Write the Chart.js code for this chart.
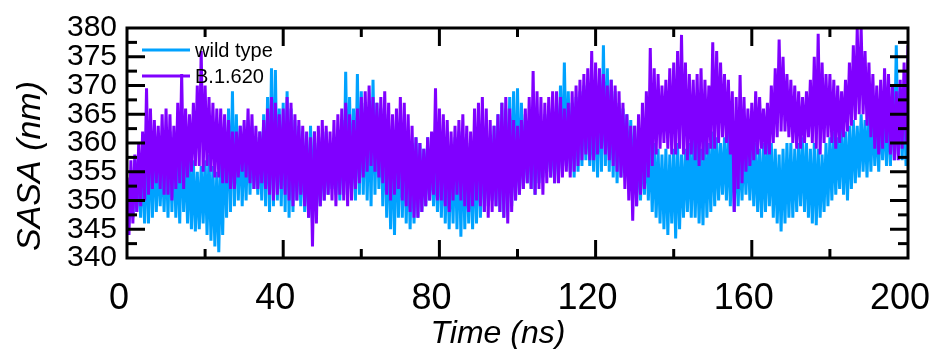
<!DOCTYPE html>
<html>
<head>
<meta charset="utf-8">
<script src="https://cdn.jsdelivr.net/npm/chart.js@4.4.1/dist/chart.umd.min.js"></script>
<style>
  html, body { margin: 0; padding: 0; background: #fff; }
</style>
</head>
<body>
<canvas id="myChart" width="939" height="349"></canvas>
<script>
// SASA trace, one value every 0.5 ns (0 .. 200 ns)
const seriesNames = ['wild type', 'B.1.620'];
const xTicks = [0, 40, 80, 120, 160, 200];
const yTicks = [340, 345, 350, 355, 360, 365, 370, 375, 380];

const wildType = [
  352, 346, 355, 347, 357, 348, 356, 347, 358, 346,
  360, 346, 362, 347, 361, 348, 359, 349, 358, 348,
  360, 347, 362, 348, 361, 347, 359, 346, 362, 348,
  359, 346, 358, 345, 357, 344.6, 355, 345, 356, 346,
  357, 344, 358, 343, 356, 342, 355, 341, 357, 344,
  362, 347, 366, 348, 369, 349, 365, 350, 363, 349,
  362, 350, 364, 351, 363, 352, 361, 351, 362, 350,
  365, 349, 368, 348, 373, 349, 372.7, 350, 366, 349,
  367, 348, 369, 347, 366, 348, 364, 350, 363, 349,
  362, 348, 361, 347, 363, 346, 362, 348, 360, 349,
  361, 350, 362, 351, 360, 352, 359, 351, 361, 350,
  364, 351, 372.4, 352, 368, 351, 366, 350, 372, 351,
  369, 351, 367, 350, 366, 349, 371, 351, 367, 352,
  366, 349, 365, 347, 363, 345, 362, 344, 364, 347,
  363, 347, 362, 346, 361, 345, 360, 346, 361, 347,
  360, 348, 359, 349, 361, 350, 360, 349, 359, 348,
  361, 347, 362, 346, 360, 345, 359, 346, 361, 345,
  362, 343.7, 361, 345, 360, 346, 359, 345, 360, 346,
  362, 347, 364, 348, 363, 349, 361, 350, 363, 349,
  365, 348, 367, 347, 366, 348, 368, 349, 369, 350,
  369.5, 351, 367, 352, 365, 353, 364, 352, 365, 351,
  364, 353, 363, 354, 365, 355, 366, 354, 365, 353,
  367, 354, 370, 355, 374, 356, 369, 355, 367, 354,
  368, 355, 369, 356, 370, 357, 368, 356, 367, 355,
  370, 354, 372, 355, 377, 356, 373, 355, 371, 354,
  369, 353, 367, 354, 366, 355, 365, 353, 364, 351,
  363, 349, 362, 350, 361, 351, 362, 350, 360, 348,
  360, 347, 359, 346, 358, 345, 359, 344, 358, 346,
  359, 343.4, 360, 345, 358, 347, 359, 348, 360, 347,
  361, 347, 360, 346, 359, 345.7, 361, 347, 360, 348,
  362, 349, 361, 350, 360, 351, 361, 350, 362, 349,
  362, 348, 361, 349, 360, 350, 361, 351, 362, 350,
  361, 349, 360, 348, 359, 347, 360, 348, 361, 349,
  360, 347, 359, 346, 358, 344.6, 359, 346, 360, 347,
  360, 347, 359, 348, 360, 349, 361, 348, 360, 347,
  359, 346, 360, 345.7, 359, 347, 358, 348, 360, 349,
  361, 350, 362, 351, 361, 352, 363, 351, 362, 350,
  363, 352, 364, 353, 363, 354, 365, 355, 364, 354,
  365, 355, 366, 356, 365, 355, 367, 357, 366, 356,
  367, 356, 370, 357, 377, 358, 369, 357, 368, 356,
  365
];

const b1620 = [
  354, 344, 357, 346, 358, 348, 360, 349, 362, 350,
  369.5, 351, 366, 352, 364, 353, 363, 352, 365, 351,
  366, 351, 365, 350, 363, 352, 367, 353, 372, 352,
  366, 354, 365, 355, 367, 356, 370, 356, 376, 355,
  370, 356, 368, 355, 367, 354, 366, 354, 366, 353,
  365, 353, 364, 352, 362, 352, 362, 354, 363, 355,
  364, 354, 366, 353, 365, 352, 363, 352, 362, 353,
  364, 352, 366, 351, 368, 350, 367, 351, 365, 352,
  366, 351, 368, 350, 367, 349, 365, 350, 364, 351,
  363, 349, 362, 347, 361, 342, 362, 346, 363, 349,
  364, 350, 363, 351, 362, 350, 364, 349, 365, 351,
  366, 350, 367, 349, 365, 350, 364, 352, 366, 353,
  368, 354, 369, 355, 370, 356, 368, 355, 367, 354,
  368, 353, 369, 351, 367, 350, 365, 351, 366, 352,
  368, 350, 367, 349, 365, 348, 363, 347, 361, 347,
  360, 348, 359, 349, 361, 350, 362, 351, 369.5, 350,
  366, 350, 365, 349, 364, 348, 362, 350, 363, 351,
  364, 350, 365, 349, 363, 348, 362, 349, 366, 350,
  367, 349, 368, 348, 366, 347, 364, 348, 363, 349,
  365, 348, 367, 347, 368, 346, 366, 348, 364, 350,
  363, 351, 364, 352, 366, 353, 368, 352, 372.5, 351,
  369, 352, 368, 351, 367, 353, 368, 354, 369, 353,
  369, 353, 368, 354, 366, 355, 367, 354, 369, 355,
  370, 356, 371, 357, 372, 358, 373, 357, 376, 357,
  374, 358, 373, 359, 372, 358, 370, 357, 371, 356,
  370, 355, 369, 354, 367, 352, 365, 350, 363, 346.5,
  363, 349, 365, 351, 367, 352, 369, 354, 376.5, 356,
  373, 358, 372, 359, 370, 360, 371, 359, 373, 358,
  374, 358, 376, 359, 378.8, 358, 374, 357, 372, 358,
  371, 357, 372, 356, 373, 357, 371, 358, 370, 359,
  377.5, 359, 376, 360, 374, 361, 372, 360, 371, 358,
  369, 348, 368, 352, 371.8, 353, 368, 355, 366, 356,
  367, 357, 369, 358, 368, 359, 366, 358, 367, 358,
  370, 360, 373, 361, 378, 362, 375, 362, 372, 361,
  371, 360, 370, 359, 369, 359, 368, 360, 369, 361,
  371, 360, 375, 359, 379, 358, 374, 360, 372, 361,
  372, 360, 371, 359, 370, 360, 369, 361, 371, 362,
  374, 363, 377, 364, 380, 365, 380, 365, 376, 363,
  374, 361, 372, 359, 370, 358, 371, 359, 373, 360,
  372, 358, 370, 357, 369, 357, 371, 359, 374, 360,
  377
];

const timeNs = wildType.map((_, i) => i * 0.5);
const colors = ['#00a2ff', '#8000ff'];
const FONT = "'Liberation Sans', Arial, sans-serif";

// frame, inward ticks, axis titles and in-plot legend
const frameAndLegend = {
  id: 'frameAndLegend',
  afterDatasetsDraw(chart) {
    const { ctx, chartArea: a, scales: { x, y } } = chart;
    ctx.save();
    ctx.strokeStyle = '#000';
    ctx.lineWidth = 3;
    ctx.strokeRect(a.left, a.top, a.right - a.left, a.bottom - a.top);

    const seg = (x1, y1, x2, y2) => {
      ctx.beginPath(); ctx.moveTo(x1, y1); ctx.lineTo(x2, y2); ctx.stroke();
    };
    for (let t = 20; t < 200; t += 20) {
      const px = x.getPixelForValue(t);
      const len = t % 40 === 0 ? 18 : 9;
      seg(px, a.bottom, px, a.bottom - len);
      seg(px, a.top, px, a.top + len);
    }
    for (let v = 342.5; v < 380; v += 2.5) {
      const py = y.getPixelForValue(v);
      const len = v % 5 === 0 ? 18 : 10;
      seg(a.left, py, a.left + len, py);
      seg(a.right, py, a.right - len, py);
    }

    // legend
    ctx.font = '20px ' + FONT;
    ctx.textBaseline = 'middle';
    ctx.fillStyle = '#000';
    const rows = [50, 76];
    chart.data.datasets.forEach((ds, i) => {
      ctx.strokeStyle = ds.borderColor;
      ctx.lineWidth = 3;
      seg(142, rows[i], 190, rows[i]);
      ctx.fillText(ds.label, 195, rows[i] + 1);
    });

    // axis titles
    ctx.fillStyle = '#000';
    ctx.textAlign = 'center';
    ctx.font = 'italic 32px ' + FONT;
    ctx.fillText('Time (ns)', 498, 334);
    ctx.translate(31, 166);
    ctx.rotate(-Math.PI / 2);
    ctx.font = 'italic 34px ' + FONT;
    ctx.fillText('SASA (nm)', 0, 0);
    ctx.restore();
  }
};

new Chart('myChart', {
  type: 'line',
  data: {
    datasets: [{
      label: seriesNames[0],
      data: timeNs.map((t, i) => ({ x: t, y: wildType[i] })),
      borderColor: colors[0],
      borderWidth: 3,
      pointRadius: 0,
      order: 1
    }, {
      label: seriesNames[1],
      data: timeNs.map((t, i) => ({ x: t, y: b1620[i] })),
      borderColor: colors[1],
      borderWidth: 3,
      pointRadius: 0,
      order: 0
    }]
  },
  options: {
    responsive: false,
    animation: false,
    devicePixelRatio: 1,
    layout: { padding: { top: 28, right: 31, left: 0, bottom: 0 } },
    plugins: { legend: { display: false }, tooltip: { enabled: false } },
    scales: {
      x: {
        type: 'linear',
        min: 0, max: 200,
        afterFit: s => { s.height = 91; s.paddingLeft = 0; s.paddingRight = 0; },
        afterBuildTicks: s => { s.ticks = xTicks.map(v => ({ value: v })); },
        grid: { display: false, drawTicks: false },
        border: { display: false },
        ticks: { color: '#000', padding: 19, labelOffset: -8, autoSkip: false, maxRotation: 0,
                 font: { family: FONT, size: 36 } }
      },
      y: {
        min: 340, max: 380,
        afterFit: s => { s.width = 127; s.paddingTop = 0; s.paddingBottom = 0; },
        afterBuildTicks: s => { s.ticks = yTicks.map(v => ({ value: v })); },
        grid: { display: false, drawTicks: false },
        border: { display: false },
        ticks: { color: '#000', padding: 10, autoSkip: false, font: { family: FONT, size: 30 } }
      }
    }
  },
  plugins: [frameAndLegend]
});
</script>
</body>
</html>
